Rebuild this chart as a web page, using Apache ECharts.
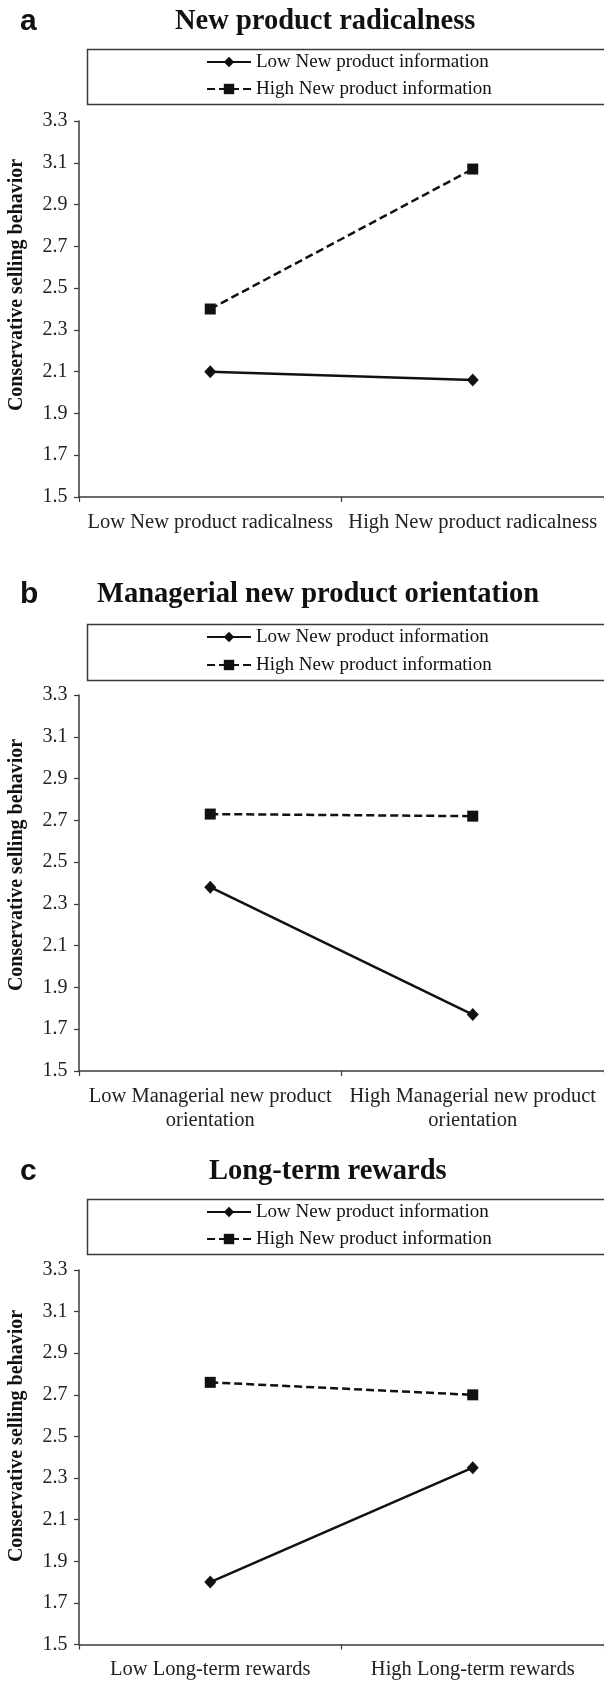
<!DOCTYPE html>
<html>
<head>
<meta charset="utf-8">
<script src="https://cdn.jsdelivr.net/npm/echarts@6/dist/echarts.min.js"></script>
<style>
html, body { margin: 0; padding: 0; background: #fff; }
#chart { width: 604px; height: 1682px; }
</style>
</head>
<body>
<div id="chart"></div>
<script>
// x categories of the three panels
const catsA = ['Low New product radicalness', 'High New product radicalness'];
const catsB = ['Low Managerial new product\norientation', 'High Managerial new product\norientation'];
const catsC = ['Low Long-term rewards', 'High Long-term rewards'];

// series names
const lowName = 'Low New product information';
const highName = 'High New product information';

// values
const lowA = [2.10, 2.06];
const highA = [2.40, 3.07];
const lowB = [2.38, 1.77];
const highB = [2.73, 2.72];
const lowC = [1.80, 2.35];
const highC = [2.76, 2.70];

// y axis
const yMin = 1.5;
const yMax = 3.3;
const yStep = 0.2;

const panelTitles = ['New product radicalness', 'Managerial new product orientation', 'Long-term rewards'];
const panelLetters = ['a', 'b', 'c'];
const yName = 'Conservative selling behavior';

const serif = "'Liberation Serif', 'Times New Roman', serif";
const ink = '#111';
const axisCol = '#3a3a3a';

// layout of each panel (pixels)
const panels = [
  { top: 121, letterY: 22, titleX: 175, boxY: 47, boxH: 55, legTop: 52.5, legGap: 8, nameY: 285 },
  { top: 695, letterY: 595, titleX: 97, boxY: 622, boxH: 56, legTop: 627.5, legGap: 9, nameY: 865 },
  { top: 1270, letterY: 1172, titleX: 209, boxY: 1197, boxH: 55, legTop: 1202.5, legGap: 8, nameY: 1436 }
];
const cats = [catsA, catsB, catsC];
const lows = [lowA, lowB, lowC];
const highs = [highA, highB, highC];

const chart = echarts.init(document.getElementById('chart'));

const grid = [], xAxis = [], yAxis = [], series = [], legend = [], graphic = [];

panels.forEach((p, i) => {
  grid.push({ left: 79, right: 0, top: p.top, height: 376 });
  xAxis.push({
    type: 'category',
    gridIndex: i,
    data: cats[i],
    axisLine: { lineStyle: { color: axisCol, width: 1.5 } },
    axisTick: { show: true, length: 5, lineStyle: { color: axisCol, width: 1.2 } },
    axisLabel: { color: '#222', fontFamily: serif, fontSize: 20.5, lineHeight: 24, margin: 13.5, interval: 0 },
    splitLine: { show: false }
  });
  yAxis.push({
    type: 'value',
    gridIndex: i,
    min: yMin,
    max: yMax,
    interval: yStep,
    axisLine: { show: true, lineStyle: { color: axisCol, width: 1.5 } },
    axisTick: { show: true, length: 5, lineStyle: { color: axisCol, width: 1.2 } },
    axisLabel: { color: '#222', fontFamily: serif, fontSize: 20, margin: 11.5, formatter: v => v.toFixed(1) },
    splitLine: { show: false }
  });
  series.push({
    name: lowName, type: 'line', xAxisIndex: i, yAxisIndex: i, data: lows[i],
    symbol: 'diamond', symbolSize: [12, 13],
    lineStyle: { color: ink, width: 2.5 }, itemStyle: { color: ink }
  });
  series.push({
    name: highName, type: 'line', xAxisIndex: i, yAxisIndex: i, data: highs[i],
    symbol: 'rect', symbolSize: 11,
    lineStyle: { color: ink, width: 2.5, type: [8, 4] }, itemStyle: { color: ink }
  });
  legend.push({
    data: [lowName, highName],
    orient: 'vertical',
    left: 206,
    top: p.legTop,
    itemWidth: 44,
    itemHeight: 13,
    itemGap: p.legGap,
    padding: 0,
    selectedMode: false,
    textStyle: { color: ink, fontFamily: serif, fontSize: 19 }
  });
  graphic.push({
    type: 'rect', left: 85, top: p.boxY,
    shape: { width: 540, height: p.boxH },
    style: { fill: 'none', stroke: axisCol, lineWidth: 1.5 }
  });
  graphic.push({
    type: 'text', x: 20, y: p.letterY,
    style: { text: panelLetters[i], fill: ink, font: "bold 30px 'Liberation Sans', Arial, sans-serif", verticalAlign: 'middle' }
  });
  graphic.push({
    type: 'text', x: p.titleX, y: p.letterY,
    style: { text: panelTitles[i], fill: ink, font: 'bold 28.5px ' + serif, verticalAlign: 'middle' }
  });
  graphic.push({
    type: 'text', x: 17, y: p.nameY, rotation: Math.PI / 2,
    style: { text: yName, fill: ink, font: 'bold 20px ' + serif, align: 'center', verticalAlign: 'middle' }
  });
});

chart.setOption({
  animation: false,
  backgroundColor: '#fff',
  grid: grid,
  xAxis: xAxis,
  yAxis: yAxis,
  legend: legend,
  series: series,
  graphic: graphic
});
</script>
</body>
</html>
